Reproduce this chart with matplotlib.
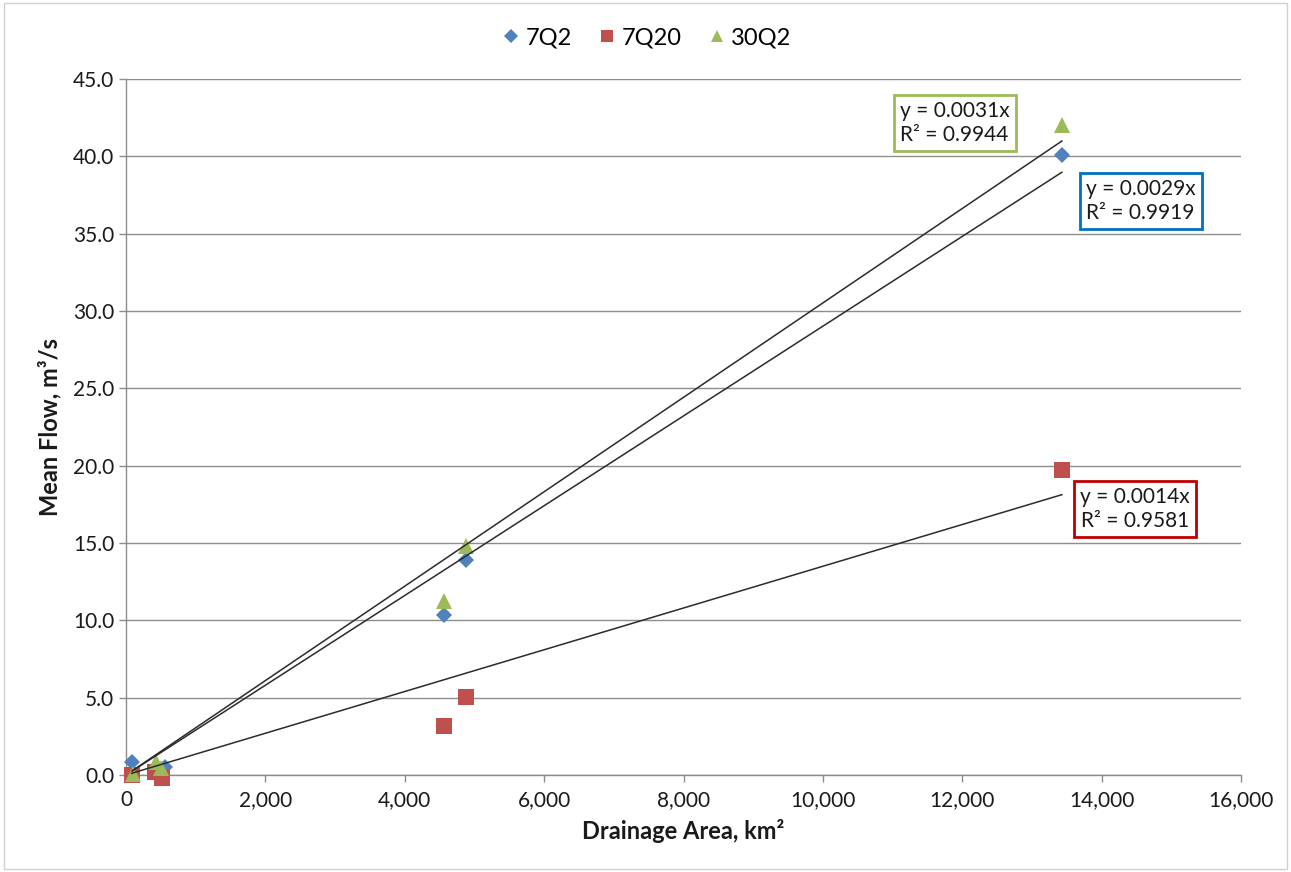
import numpy as np
import matplotlib
matplotlib.use("Agg")
import matplotlib.pyplot as plt
from matplotlib.patches import Rectangle

plt.rcParams['font.family'] = ['Lato', 'DejaVu Sans']

# drainage area (km2) and low-flow statistics (m3/s)
area_7q2 = [86, 560, 4570, 4880, 13430]
flow_7q2 = [0.85, 0.5, 10.35, 13.9, 40.1]

area_7q20 = [80, 420, 520, 4570, 4880, 13430]
flow_7q20 = [0.0, 0.2, -0.2, 3.17, 5.05, 19.75]

area_30q2 = [100, 430, 500, 4570, 4880, 13430]
flow_30q2 = [0.05, 0.85, 0.45, 11.25, 14.8, 42.0]

labels = ["7Q2", "7Q20", "30Q2"]
eq_text = ["y = 0.0029x\nR² = 0.9919", "y = 0.0014x\nR² = 0.9581", "y = 0.0031x\nR² = 0.9944"]
colors = ["#4F81BD", "#C0504D", "#9BBB59"]
box_colors = ["#0070C0", "#C00000", "#9BBB59"]
markers = ["D", "s", "^"]
msizes = [8.5, 11, 11]
# label positions (data coords)
eq_pos = [(14560, 37.1), (14480, 17.2), (11890, 42.15)]

fig = plt.figure(figsize=(12.91, 8.72), dpi=100)
ax = fig.add_axes([126 / 1291, 1 - 775 / 872, (1241 - 126) / 1291, (775 - 79) / 872])

# chart area border
fig.patches.append(Rectangle((0.003, 0.004), 0.994, 0.992, transform=fig.transFigure,
                             fill=False, edgecolor="#D0D0D0", linewidth=1))

series = [(area_7q2, flow_7q2), (area_7q20, flow_7q20), (area_30q2, flow_30q2)]
handles = []
for (xs, ys), lab, c, m, ms in zip(series, labels, colors, markers, msizes):
    h, = ax.plot(xs, ys, linestyle="none", marker=m, color=c, markersize=ms,
                 markeredgewidth=0, label=lab, zorder=3, clip_on=False)
    handles.append(h)

# linear trend lines through origin
for (xs, ys) in series:
    xs = np.array(xs, float)
    ys = np.array(ys, float)
    slope = np.sum(xs * ys) / np.sum(xs * xs)
    xl = np.array([xs.min(), xs.max()])
    ax.plot(xl, slope * xl, color="#2b2b2b", linewidth=1.1, zorder=4)

for txt, pos, bc in zip(eq_text, eq_pos, box_colors):
    ax.text(pos[0], pos[1], txt, fontsize=15, color="#1a1a1a", ha="center", va="center",
            linespacing=1.25, zorder=5, clip_on=False,
            bbox=dict(boxstyle="square,pad=0.3", facecolor="white", edgecolor=bc, linewidth=2))

ax.set_xlim(0, 16000)
ax.set_ylim(0, 45)
ax.set_xticks(np.arange(0, 16001, 2000))
ax.set_yticks(np.arange(0, 45.1, 5))
ax.set_xticklabels([f"{v:,}" for v in range(0, 16001, 2000)])
ax.set_yticklabels([f"{v:.1f}" for v in np.arange(0, 45.1, 5)])
ax.tick_params(labelsize=15, colors="#8c8c8c", labelcolor="#1a1a1a", length=5, width=1)
ax.tick_params(axis="x", pad=6)
ax.yaxis.grid(True, color="#8c8c8c", linewidth=1)
ax.set_axisbelow(True)
for s in ["top", "right"]:
    ax.spines[s].set_visible(False)
for s in ["left", "bottom"]:
    ax.spines[s].set_color("#8c8c8c")
    ax.spines[s].set_linewidth(1)

ax.set_xlabel("Drainage Area, km²", fontsize=17, fontweight="bold", color="#1a1a1a", labelpad=6)
ax.set_ylabel("Mean Flow, m³/s", fontsize=17, fontweight="bold", color="#1a1a1a", labelpad=8)

fig.legend(handles=handles, loc="center", bbox_to_anchor=(0.5, 1 - 38 / 872), ncol=3,
           frameon=False, fontsize=17, handletextpad=0.1, columnspacing=1.0,
           markerscale=0.8, handlelength=1.0)

fig.savefig("out.png", dpi=100)
